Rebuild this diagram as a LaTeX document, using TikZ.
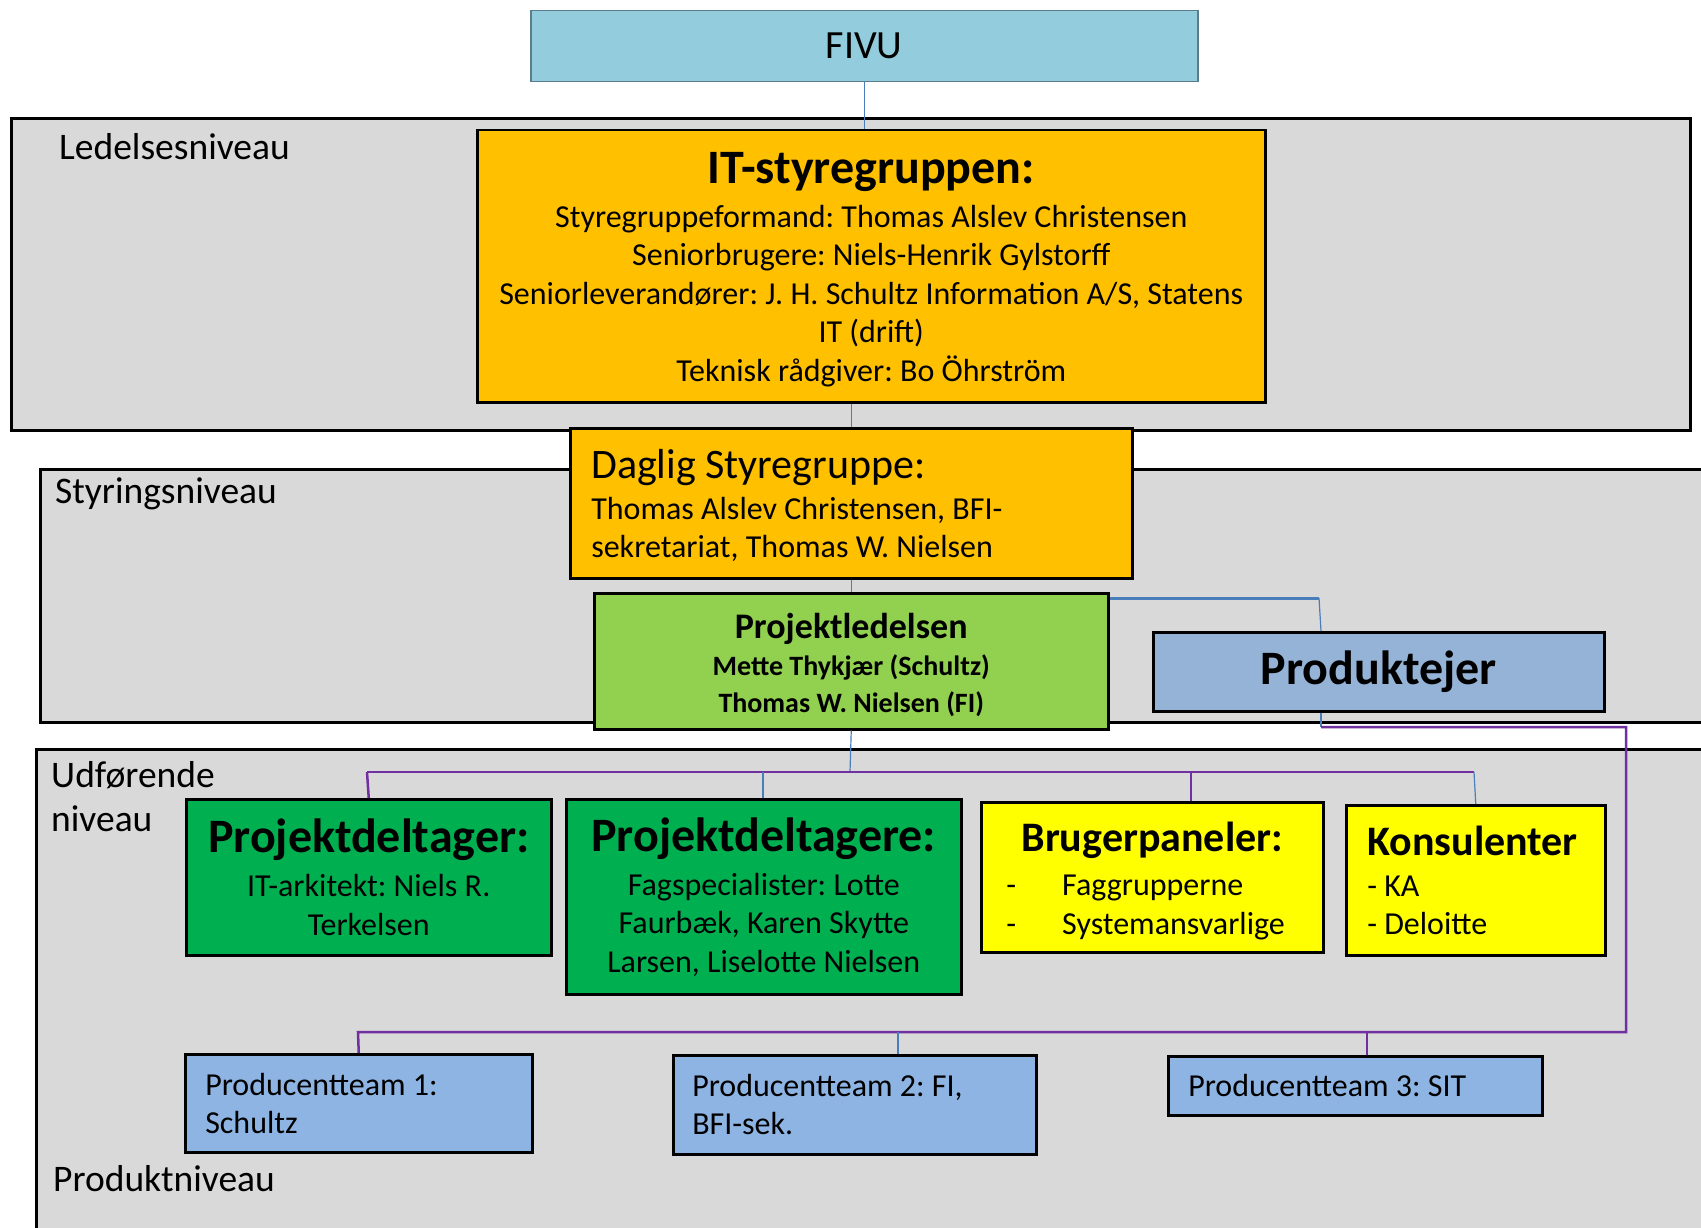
\documentclass[tikz,border=0pt]{standalone}
\usepackage{fontspec}
\setmainfont{Carlito}
\usetikzlibrary{calc}
\definecolor{bandgray}{HTML}{D9D9D9}
\definecolor{fivufill}{HTML}{93CDDD}
\definecolor{fivuedge}{HTML}{5B7C8C}
\definecolor{itorange}{HTML}{FFC000}
\definecolor{plgreen}{HTML}{92D050}
\definecolor{peblue}{HTML}{95B3D7}
\definecolor{pdgreen}{HTML}{00B050}
\definecolor{ylw}{HTML}{FFFF00}
\definecolor{ptblue}{HTML}{8DB4E2}
\definecolor{lineblue}{HTML}{4A7EBB}
\definecolor{linepurple}{HTML}{7030A0}
\newcommand\fsz[2]{\fontsize{#1}{#2}\selectfont}
\newcommand\htfix[1]{\rule{0pt}{#1}}
\frenchspacing
\begin{document}
\frenchspacing
\begin{tikzpicture}[x=1pt,y=-1pt,
  band/.style={draw=black, line width=3pt, fill=bandgray},
  box/.style={draw=black, line width=2.5pt, inner sep=0pt, anchor=north west, font=\fsz{32}{38.5}\frenchspacing},
  lvl/.style={anchor=base west, font=\fsz{37.5}{45}, inner sep=0pt},
  blueline/.style={draw=lineblue, line width=1.2pt},
  bluethick/.style={draw=lineblue, line width=3pt},
  purpline/.style={draw=linepurple, line width=2.5pt}]
\useasboundingbox (0,0) rectangle (1701,1228);
\fill[white] (0,0) rectangle (1701,1228);
% bands
\path[band] (11,119) rectangle (1690,430);
\path[band] (40,469) rectangle (1720,722);
\path[band] (36,749) rectangle (1720,1240);
% level labels
\node[lvl] (l1) at (59,160) {Ledelsesniveau};
\node[lvl] (l2) at (55,503) {Styringsniveau};
\node[lvl] (l3a) at (51,787) {Udførende};
\node[lvl] (l3b) at (51,831) {niveau};
\node[lvl] (l4) at (53,1191) {Produktniveau};
% boxes
\node[box, draw=fivuedge, line width=1.5pt, fill=fivufill, minimum width=667pt, minimum height=71pt, font=\fsz{40}{48}] (fivu) at (530,10) {FIVU};
\node[box, fill=itorange, minimum width=788pt, minimum height=272pt, align=center] (it) at (476,129)
  {{\fsz{48}{58}\bfseries\htfix{37.5pt}IT-styregruppen:}\\[5.5pt]
   Styregruppeformand: Thomas Alslev Christensen\\
   Seniorbrugere: Niels-Henrik Gylstorff\\
   Seniorleverandører: J. H. Schultz Information A/S, Statens\\
   IT (drift)\\
   Teknisk rådgiver: Bo Öhrström};
\node[box, fill=itorange, minimum width=562pt, minimum height=150pt, inner xsep=21pt, text width=520pt, align=flush left] (daglig) at (569,427)
  {{\fsz{42}{50}\htfix{34pt}Daglig Styregruppe:}\\[2.5pt]
   Thomas Alslev Christensen, BFI-\\
   sekretariat, Thomas W. Nielsen};
\node[box, fill=plgreen, minimum width=514pt, minimum height=136pt, align=center, font=\fsz{28}{37}\bfseries] (pl) at (593,592)
  {{\fsz{36}{43}\htfix{32pt}Projektledelsen}\\
   Mette Thykjær (Schultz)\\
   Thomas W. Nielsen (FI)};
\node[box, fill=peblue, minimum width=451pt, minimum height=79pt, font=\fsz{48}{58}\bfseries] (pe) at (1152,631) {Produktejer};
\node[box, fill=pdgreen, minimum width=365pt, minimum height=156pt, align=center] (pd1) at (185,798)
  {{\fsz{48}{58}\bfseries Projektdeltager:}\\[5.5pt]
   IT-arkitekt: Niels R.\\
   Terkelsen};
\node[box, fill=pdgreen, minimum width=395pt, minimum height=195pt, align=center] (pd2) at (565,798)
  {{\fsz{48}{58}\bfseries Projektdeltagere:}\\[5.5pt]
   Fagspecialister: Lotte\\
   Faurbæk, Karen Skytte\\
   Larsen, Liselotte Nielsen};
\node[box, fill=ylw, minimum width=342pt, minimum height=150pt, inner xsep=25pt, text width=292pt, align=flush left] (bruger) at (980,801)
  {\htfix{36.5pt}\makebox[\linewidth][c]{\fsz{42}{50}\bfseries Brugerpaneler:}\\[5.5pt]
   \makebox[56pt][l]{-}Faggrupperne\\
   \makebox[56pt][l]{-}Systemansvarlige};
\node[box, fill=ylw, minimum width=259pt, minimum height=150pt, inner xsep=21pt, text width=217pt, align=flush left] (kons) at (1345,804)
  {{\fsz{42}{50}\bfseries Konsulenter}\\[2.5pt]
   - KA\\
   - Deloitte};
\node[box, fill=ptblue, minimum width=347pt, minimum height=98pt, inner xsep=20pt, text width=307pt, align=flush left] (pt1) at (184,1053)
  {Producentteam 1:\\ Schultz};
\node[box, fill=ptblue, minimum width=363pt, minimum height=99pt, inner xsep=19pt, text width=325pt, align=flush left] (pt2) at (672,1054)
  {Producentteam 2: FI,\\ BFI-sek.};
\node[box, fill=ptblue, minimum width=374pt, minimum height=59pt, inner xsep=20pt, text width=334pt, align=flush left] (pt3) at (1167,1055)
  {Producentteam 3: SIT};
% connectors
\draw[blueline] (fivu.south) -- (fivu.south |- it.north);
\draw[blueline] (daglig.north) -- (daglig.north |- it.south);
\draw[blueline] (daglig.south) -- (pl.north);
\coordinate (plpe) at (1319,598);
\coordinate (pein) at ($(pe.north west)+(169,0)$);
\draw[bluethick] ([yshift=-6pt]pl.north east) -- (plpe);
\draw[blueline] (plpe) -- (pein);
\coordinate (peout) at ($(pe.south west)+(169,0)$);
\coordinate (pecorner) at (1321,727);
\coordinate (rcorner) at (1626,727);
\coordinate (rbottom) at (1626,1032);
\coordinate (bus2L) at (358,1032);
\draw[blueline] (peout) -- (pecorner);
\draw[purpline] (pecorner) -- (rcorner) -- (rbottom) -- (bus2L) -- (pt1.north);
\coordinate (bus2b) at (898,1032);
\coordinate (bus2c) at (1367,1032);
\draw[blueline] (bus2b) -- (bus2b |- pt2.north);
\draw[purpline] (bus2c) -- (bus2c |- pt3.north);
\coordinate (bus1) at (850,772);
\coordinate (bus1L) at (367,772);
\coordinate (bus1R) at (1474,772);
\coordinate (bus1c) at (1191,772);
\coordinate (bus1b) at (763,772);
\draw[blueline] (pl.south) -- (bus1);
\draw[purpline] (bus1L) -- (bus1R);
\draw[purpline] (bus1L) -- (pd1.north);
\draw[blueline] (bus1b) -- (bus1b |- pd2.north);
\draw[purpline] (bus1c) -- (bus1c |- bruger.north);
\draw[blueline] (bus1R) -- (kons.north);
\end{tikzpicture}
\end{document}
